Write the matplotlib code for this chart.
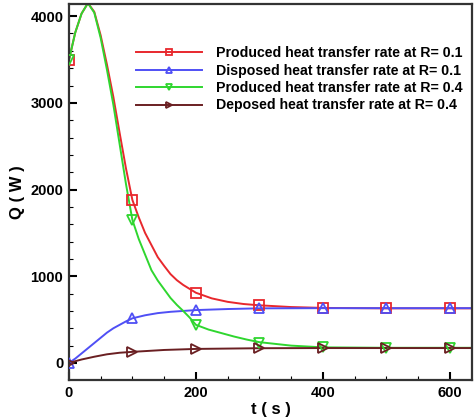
import numpy as np
import matplotlib.pyplot as plt
from matplotlib.ticker import MultipleLocator

# curve points
t_red = [0, 10, 20, 30, 40, 50, 60, 70, 80, 90, 100, 110, 120, 130, 140, 150, 160, 170,
         180, 190, 200, 225, 250, 275, 300, 350, 400, 500, 600, 640]
q_red = [3490, 3810, 4030, 4150, 4050, 3780, 3440, 3070, 2650, 2240, 1880, 1680, 1500, 1360,
         1220, 1120, 1025, 955, 900, 855, 810, 745, 705, 680, 665, 645, 635, 630, 630, 630]

t_green = [0, 10, 20, 30, 40, 50, 60, 70, 80, 90, 100, 110, 120, 130, 140, 150, 160, 170,
           180, 190, 200, 220, 240, 260, 280, 300, 350, 400, 500, 600, 640]
q_green = [3490, 3810, 4030, 4150, 4040, 3750, 3380, 2980, 2520, 2060, 1650, 1430, 1250, 1070,
           950, 850, 750, 670, 600, 525, 440, 385, 345, 305, 270, 240, 200, 180, 175, 175, 175]

t_blue = [0, 10, 20, 30, 40, 50, 60, 70, 80, 90, 100, 120, 140, 160, 180, 200, 250, 300, 400, 640]
q_blue = [0, 50, 110, 170, 230, 290, 350, 400, 440, 480, 515, 550, 575, 590, 600, 610, 622, 630, 632, 632]

t_brown = [0, 20, 40, 60, 80, 100, 150, 200, 300, 400, 640]
q_brown = [0, 40, 72, 100, 118, 128, 150, 162, 170, 172, 172]

# marker points every 100 s
t_mark = [0, 100, 200, 300, 400, 500, 600]
m_red = [3490, 1880, 810, 665, 635, 630, 630]
m_blue = [0, 515, 610, 630, 632, 632, 632]
m_green = [3490, 1650, 440, 235, 180, 175, 175]
m_brown = [0, 128, 160, 170, 172, 172, 172]

labels = ["Produced heat transfer rate at R= 0.1",
          "Disposed heat transfer rate at R= 0.1",
          "Produced heat transfer rate at R= 0.4",
          "Deposed heat transfer rate at R= 0.4"]

plt.rcParams['font.family'] = ['Liberation Sans', 'DejaVu Sans']

fig = plt.figure(figsize=(4.75, 4.18), dpi=100)
ax = fig.add_axes([0.145, 0.091, 0.849, 0.899])

series = [
    (t_red, q_red, m_red, "#e8282d", "s"),
    (t_blue, q_blue, m_blue, "#4f4ff5", "^"),
    (t_green, q_green, m_green, "#2fd62f", "v"),
    (t_brown, q_brown, m_brown, "#6a1f22", ">"),
]
handles = []
for (tc, qc, qm, col, mk), lab in zip(series, labels):
    ax.plot(tc, qc, color=col, lw=1.4, zorder=2)
    ax.plot(t_mark, qm, ls="none", marker=mk, ms=7.5, mfc="none", mec=col, mew=1.3, zorder=3)
    h, = ax.plot([], [], color=col, lw=1.4, marker=mk, ms=5, mfc="none", mec=col, mew=1.3)
    handles.append(h)

ax.set_xlim(0, 635)
ax.set_ylim(-196, 4138)
ax.xaxis.set_major_locator(MultipleLocator(200))
ax.xaxis.set_minor_locator(MultipleLocator(50))
ax.yaxis.set_major_locator(MultipleLocator(1000))
ax.yaxis.set_minor_locator(MultipleLocator(200))
ax.tick_params(which="both", direction="in", top=False, right=False)
ax.tick_params(which="major", length=6, width=1.5, labelsize=10.5, pad=4)
ax.tick_params(which="minor", length=3, width=0.8)
for lbl in ax.get_xticklabels() + ax.get_yticklabels():
    lbl.set_fontweight("bold")
for sp in ax.spines.values():
    sp.set_linewidth(1.6)
    sp.set_color("#333333")

ax.set_xlabel("t ( s )", fontsize=12, fontweight="bold", labelpad=2)
ax.set_ylabel("Q ( W )", fontsize=12, fontweight="bold", labelpad=4)

ax.legend(handles, labels, loc="upper left", bbox_to_anchor=(0.152, 0.903), frameon=False,
          prop={"size": 10.2, "weight": "bold"}, handlelength=4.7, handletextpad=0.95,
          labelspacing=0.24, borderaxespad=0)

fig.savefig("out.png", dpi=100)
